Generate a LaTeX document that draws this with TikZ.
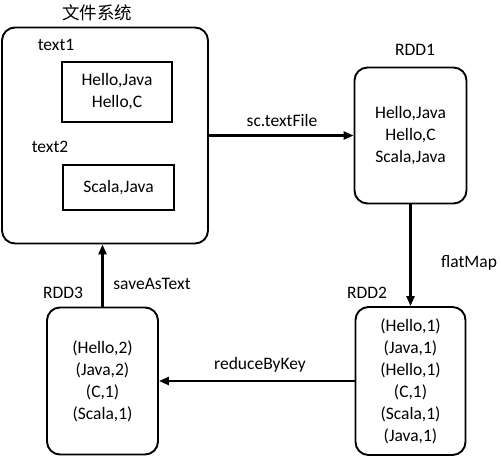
\documentclass[tikz,border=0pt]{standalone}
\usepackage{fontspec}
\setmainfont{Carlito}
\newfontfamily\cjk{Noto Sans CJK SC}
\usetikzlibrary{arrows.meta}
\begin{document}
\begin{tikzpicture}[x=1pt,y=-1pt,
  txt/.style={font=\fontsize{17.5}{22}\selectfont, inner sep=0pt},
  rbox/.style={draw, line width=1.9pt, rounded corners=13pt, txt, align=center},
  sbox/.style={draw, line width=1.7pt, txt, align=center},
  arr/.style={line width=2.2pt, -{Triangle[length=10pt,width=8pt]}}]
\useasboundingbox (0,0) rectangle (501,456);
\node[txt] (title) at (97,13) {\cjk 文件系统};
\node[rbox, minimum width=206pt, minimum height=216pt] (fs) at (105,135.5) {};
\node[txt] (t1) at (56,45) {text1};
\node[sbox, minimum width=110pt, minimum height=60pt] (b1) at (117,92) {Hello,Java\\Hello,C};
\node[txt] (t2) at (50,147) {text2};
\node[sbox, minimum width=111pt, minimum height=45pt] (b2) at (118.5,187.5) {Scala,Java};
\node[txt] (l1) at (415,50) {RDD1};
\node[rbox, minimum width=112pt, minimum height=136pt] (rdd1) at (410.5,135.5) {Hello,Java\\Hello,C\\Scala,Java};
\node[txt] (l2) at (367,293) {RDD2};
\node[rbox, minimum width=110pt, minimum height=148pt] (rdd2) at (410.5,381) {(Hello,1)\\(Java,1)\\(Hello,1)\\(C,1)\\(Scala,1)\\(Java,1)};
\node[txt] (l3) at (63,293) {RDD3};
\node[rbox, minimum width=111pt, minimum height=147pt] (rdd3) at (102.5,381) {(Hello,2)\\(Java,2)\\(C,1)\\(Scala,1)};
\draw[arr] (fs.east) -- (rdd1.west);
\node[txt] (lt) at (282,120) {sc.textFile};
\draw[arr] (rdd1.south) -- (rdd2.north);
\node[txt] (lf) at (469,263) {flatMap};
\draw[arr] (rdd2.west) -- (rdd3.east);
\node[txt] (lr) at (260,365) {reduceByKey};
\draw[arr] (rdd3.north) -- (rdd3.north |- fs.south);
\node[txt] (ls) at (152,284) {saveAsText};
\end{tikzpicture}
\end{document}
